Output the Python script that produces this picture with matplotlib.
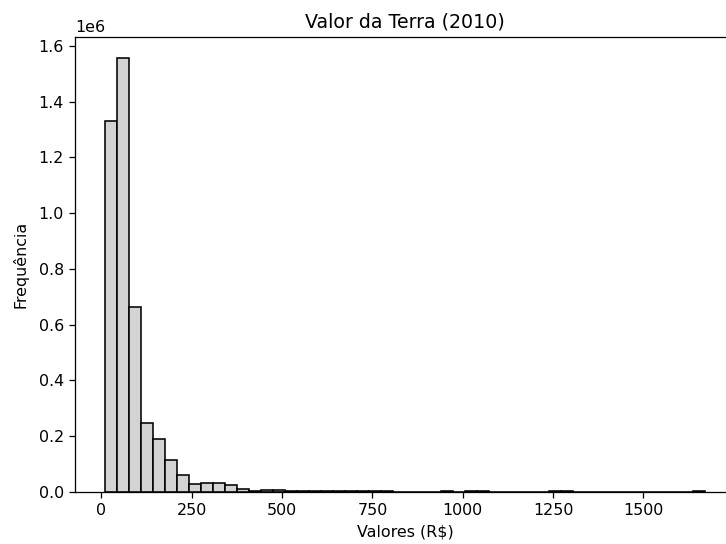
import numpy as np
import matplotlib
matplotlib.use('Agg')
import matplotlib.pyplot as plt

# Histogram bins (50 bins, 10 .. 1670 R$)
bin_start = 10
bin_end = 1670
n_bins = 50

# Frequency per bin (approximate)
counts = [1330000, 1555000, 663000, 245000, 190000, 113000, 61000, 28000, 33000, 33000,
          25000, 8000, 3000, 7000, 7000, 3000, 2000, 2000, 2000, 2000,
          2000, 2000, 1000, 4000, 0, 0, 0, 0, 4000, 0,
          4000, 4000, 0, 0, 0, 0, 0, 4000, 4000, 0,
          0, 0, 0, 0, 0, 0, 0, 0, 0, 4000]
xticks = [0, 250, 500, 750, 1000, 1250, 1500]

edges = np.linspace(bin_start, bin_end, n_bins + 1)
centers = (edges[:-1] + edges[1:]) / 2

dpi = 114
fig = plt.figure(figsize=(726 / dpi, 544 / dpi), dpi=dpi)
ax = fig.add_axes([0.1033, 0.0961, 0.909, 0.8364])
ax.hist(centers, bins=edges, weights=counts, color='lightgray', edgecolor='black')
ax.set_xticks(xticks)
ax.set_title('Valor da Terra (2010)')
ax.set_xlabel('Valores (R$)')
ax.set_ylabel('Frequência', labelpad=6.5)

fig.savefig('out.png', dpi=dpi)
